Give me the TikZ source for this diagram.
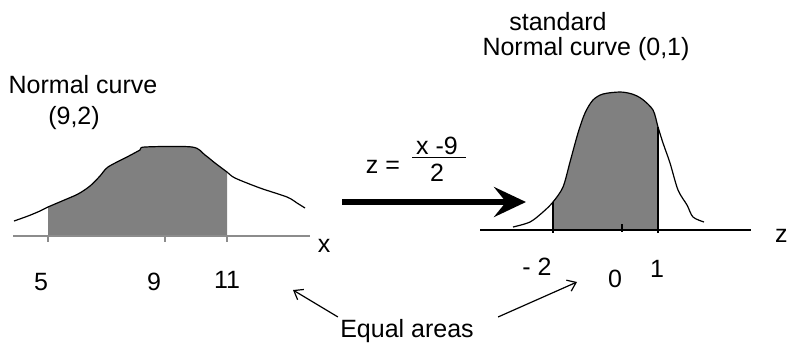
\documentclass[tikz,border=0pt]{standalone}
\usepackage{fontspec}
\setmainfont{Liberation Sans}
\usepackage{tikz}
\usetikzlibrary{arrows.meta}
\definecolor{areaGray}{RGB}{128,128,128}
\definecolor{axisGray}{RGB}{140,140,140}

\begin{document}
\begin{tikzpicture}[x=0.5pt,y=-0.5pt,
    lbl/.style={font=\fontsize{12.5}{15}\selectfont,inner sep=1pt},
    curve/.style={black,line width=0.6pt},
    shade/.style={fill=areaGray},
    tick/.style={line width=0.6pt},
    bigarrow/.style={-{Stealth[length=16pt,width=15pt,inset=6pt]},line width=3pt},
    eqarrow/.style={-{Straight Barb[length=4pt,width=6pt]},line width=0.6pt}]

    \useasboundingbox (0,0) rectangle (791,345);

    % left curve (9,2)
    \def\leftcurve{-- plot[smooth,tension=0.5] coordinates {(14,221) (28,216) (40,211)
      (48,207) (62,201) (78,194) (90,186) (100,176) (108,167) (127,157) (140,150)
      (145,147) (192,147) (205,155) (215,163) (227,172) (235,178) (260,188)
      (287,197) (297,203) (305,208)}}
    \begin{scope}
      \clip (48,0) rectangle (227,236);
      \fill[shade] (14,236) \leftcurve -- (305,236) -- cycle;
    \end{scope}
    \draw[curve] (14,221) \leftcurve;
    \draw[axisGray,line width=0.6pt] (13,236) -- (310,236);
    \foreach \t in {48,165,227} {
      \draw[tick,axisGray] (\t,236) -- (\t,242);
    }
    \node[lbl] (ncx) at (83,85) {Normal curve};
    \node[lbl] (parx) at (74,118) {(9,2)};
    \node[lbl] (xlab) at (324,246) {x};
    \node[lbl] (five) at (41,282) {5};
    \node[lbl] (nine) at (154,282) {9};
    \node[lbl] (eleven) at (227,280) {11};

    % right curve (0,1)
    \def\rightcurve{-- plot[smooth,tension=0.5] coordinates {(513,227) (530,222)
      (543,212) (553,202) (563,187) (570,162) (578,133) (585,113) (593,100)
      (603,94) (620,92) (632,94) (642,99) (653,110) (658,127) (663,143)
      (670,163) (678,190) (687,205) (693,217) (704,222)}}
    \begin{scope}
      \clip (553,0) rectangle (658,230);
      \fill[shade] (513,230) \rightcurve -- (704,230) -- cycle;
    \end{scope}
    \draw[curve] (513,227) \rightcurve;
    \draw[curve] (553,230) -- (553,202);
    \draw[curve] (658,230) -- (658,127);
    \draw[line width=0.6pt] (480,230) -- (751,230);
    \draw[tick] (553,230) -- (553,233);
    \draw[tick] (622,224) -- (622,232);
    \draw[tick] (658,230) -- (658,233);
    \node[lbl] (std) at (558,22) {standard};
    \node[lbl] (ncz) at (586,49) {Normal curve (0,1)};
    \node[lbl,anchor=east] (zlab) at (790,236) {z};
    \node[lbl] (mtwo) at (537,267) {- 2};
    \node[lbl] (zero) at (615,279) {0};
    \node[lbl] (one) at (657,269) {1};

    % transformation
    \node[lbl] (zeq) at (383,167) {z =};
    \node[lbl,inner sep=0pt] (frac) at (439,162)
      {\begin{tabular}{@{\hspace{2pt}}c@{\hspace{4pt}}}x -9\\[-3pt]\hline\rule{0pt}{12pt}2\end{tabular}};
    \coordinate (arrowtail) at (342,202);
    \coordinate (arrowtip) at (526,202);
    \draw[bigarrow] (arrowtail) -- (arrowtip);

    % equal areas
    \node[lbl] (eq) at (407,331) {Equal areas};
    \coordinate (ltip) at (293,290);
    \coordinate (rtip) at (577,282);
    \draw[eqarrow] (eq.north west) -- (ltip);
    \draw[eqarrow] ([xshift=11pt]eq.north east) -- (rtip);
\end{tikzpicture}
\end{document}
